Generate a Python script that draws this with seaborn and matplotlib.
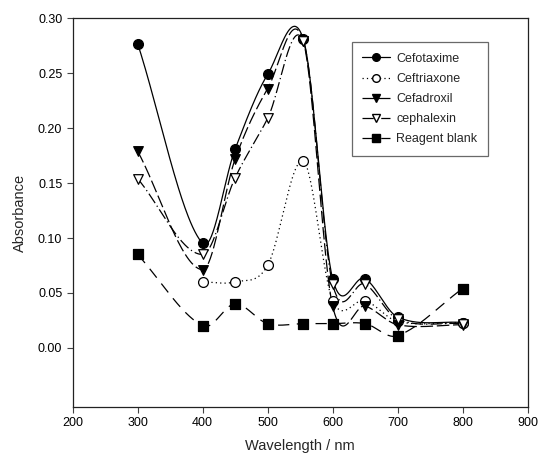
import numpy as np
import pandas as pd
import matplotlib
matplotlib.use("Agg")
import matplotlib.pyplot as plt
from matplotlib.lines import Line2D
import seaborn as sns

# Data
wl_cefotaxime = [300, 400, 450, 500, 555, 600, 650, 700, 800]
abs_cefotaxime = [0.277, 0.095, 0.181, 0.249, 0.281, 0.063, 0.063, 0.028, 0.023]

wl_ceftriaxone = [400, 450, 500, 555, 600, 650, 700, 800]
abs_ceftriaxone = [0.060, 0.060, 0.075, 0.170, 0.043, 0.043, 0.024, 0.023]

wl_cefadroxil = [300, 400, 450, 500, 555, 600, 650, 700, 800]
abs_cefadroxil = [0.179, 0.071, 0.172, 0.236, 0.279, 0.038, 0.038, 0.021, 0.021]

wl_cephalexin = [300, 400, 450, 500, 555, 600, 650, 700, 800]
abs_cephalexin = [0.154, 0.085, 0.155, 0.209, 0.279, 0.058, 0.058, 0.026, 0.022]

wl_blank = [300, 400, 450, 500, 555, 600, 650, 700, 800]
abs_blank = [0.085, 0.020, 0.040, 0.022, 0.022, 0.022, 0.022, 0.011, 0.054]

x_ticks = [200, 300, 400, 500, 600, 700, 800, 900]
y_ticks = [0.00, 0.05, 0.10, 0.15, 0.20, 0.25, 0.30]


def smooth_curve(x, y, n=60):
    # cardinal (Catmull-Rom) spline through the measured points
    x = np.asarray(x, float)
    y = np.asarray(y, float)
    k = len(x)
    d = np.zeros(k)
    d[0] = (y[1] - y[0]) / (x[1] - x[0])
    d[-1] = (y[-1] - y[-2]) / (x[-1] - x[-2])
    for i in range(1, k - 1):
        d[i] = (y[i + 1] - y[i - 1]) / (x[i + 1] - x[i - 1])
    xs_all, ys_all = [], []
    for i in range(k - 1):
        h = x[i + 1] - x[i]
        t = np.linspace(0, 1, n)
        h00 = 2 * t ** 3 - 3 * t ** 2 + 1
        h10 = t ** 3 - 2 * t ** 2 + t
        h01 = -2 * t ** 3 + 3 * t ** 2
        h11 = t ** 3 - t ** 2
        xs_all.append(x[i] + t * h)
        ys_all.append(h00 * y[i] + h10 * h * d[i] + h01 * y[i + 1] + h11 * h * d[i + 1])
    return np.concatenate(xs_all), np.concatenate(ys_all)


series = [
    ("Cefotaxime", wl_cefotaxime, abs_cefotaxime, "o", "black", "-"),
    ("Ceftriaxone", wl_ceftriaxone, abs_ceftriaxone, "o", "white", (0, (1, 2.5))),
    ("Cefadroxil", wl_cefadroxil, abs_cefadroxil, "v", "black", (0, (10, 3))),
    ("cephalexin", wl_cephalexin, abs_cephalexin, "v", "white", (0, (9, 2.5, 1, 2.5))),
    ("Reagent blank", wl_blank, abs_blank, "s", "black", (0, (9, 6))),
]

sns.set_style("ticks")
plt.rcParams["font.family"] = ["Liberation Sans", "DejaVu Sans"]

fig = plt.figure(figsize=(5.4, 4.61), dpi=100)
ax = fig.add_axes([0.1346, 0.117, 0.8424, 0.843])

handles = []
for i, (name, wl, ab, mk, fc, ls) in enumerate(series):
    xs, ys = smooth_curve(wl, ab)
    curve = pd.DataFrame({"x": xs, "y": ys})
    sns.lineplot(data=curve, x="x", y="y", ax=ax, color="black", lw=0.9,
                 linestyle=ls, sort=False, zorder=2 + i)
    pts = pd.DataFrame({"x": wl, "y": ab})
    ms = 50 if mk == "o" else 48
    sns.scatterplot(data=pts, x="x", y="y", ax=ax, marker=mk, s=ms,
                    facecolor=fc, edgecolor="black", linewidth=0.9, zorder=10 + i)
    handles.append(Line2D([], [], color="black", lw=0.9, linestyle=ls, marker=mk,
                          markerfacecolor=fc, markeredgecolor="black", markersize=5.5,
                          label=name))

ax.set_xlim(200, 900)
ax.set_ylim(-0.054, 0.30)
ax.set_xticks(x_ticks)
ax.set_yticks(y_ticks)
ax.set_yticklabels([f"{v:.2f}" for v in y_ticks])
ax.tick_params(axis="both", labelsize=9, direction="out", length=4, width=0.8,
               color="#444444", labelcolor="black")
for s in ax.spines.values():
    s.set_linewidth(0.9)
    s.set_color("#222222")
ax.set_xlabel("Wavelength / nm", fontsize=10.5, labelpad=7)
ax.set_ylabel("Absorbance", fontsize=10.5, labelpad=8)

leg = ax.legend(handles=handles, loc="upper right", bbox_to_anchor=(0.9127, 0.939),
                borderaxespad=0, fontsize=9, frameon=True, fancybox=False,
                handlelength=2.2, borderpad=0.85, labelspacing=0.65, handletextpad=0.5)
leg.get_frame().set_edgecolor("#444444")
leg.get_frame().set_linewidth(0.9)

fig.savefig("out.png", dpi=100)
